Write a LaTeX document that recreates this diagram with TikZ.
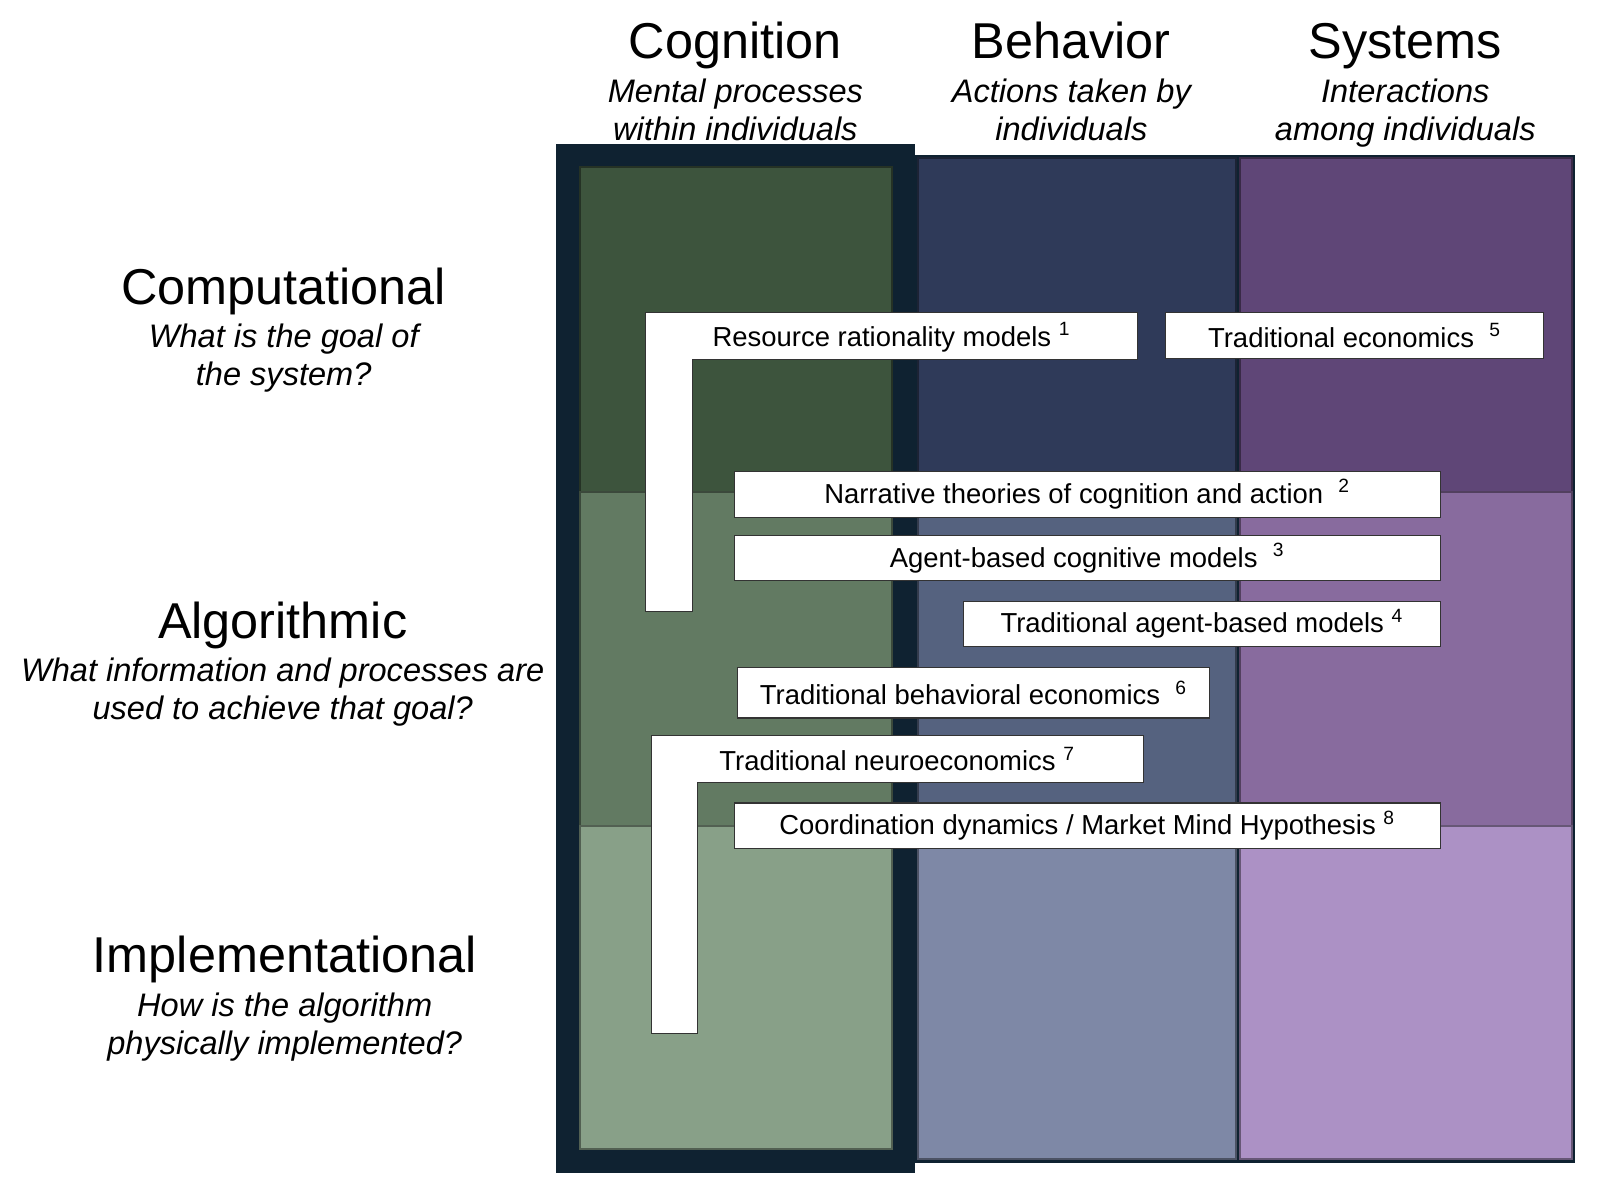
\documentclass[tikz,border=0pt]{standalone}
\usepackage{fontspec}
\setmainfont{Liberation Sans}
\usetikzlibrary{positioning,calc}

\definecolor{frame}{HTML}{0F2231}
\definecolor{cogA}{HTML}{3D543D}
\definecolor{cogB}{HTML}{627A62}
\definecolor{cogC}{HTML}{88A088}
\definecolor{behA}{HTML}{2F3A59}
\definecolor{behB}{HTML}{55627F}
\definecolor{behC}{HTML}{7E88A6}
\definecolor{sysA}{HTML}{5F4677}
\definecolor{sysB}{HTML}{886B9E}
\definecolor{sysC}{HTML}{AC91C5}

\begin{document}
\begin{tikzpicture}[x=0.5pt,y=-0.5pt,
  head/.style={anchor=base, inner sep=0pt, font=\fontsize{24.6}{29}\selectfont},
  sub/.style={anchor=base, align=center, inner sep=0pt,
    font=\fontsize{15.9}{18.7}\selectfont\itshape},
  cell/.style={line width=1pt},
  lbl/.style={draw=black!80, fill=white, line width=0.5pt, inner sep=0pt,
    font=\fontsize{13.4}{16}\selectfont},
  lshape/.style={draw=black!80, fill=white, line width=0.5pt}
]
\useasboundingbox (0,0) rectangle (1568,1160);

\fill[frame] (543,141) rectangle (893,1145);
\fill[frame] (893,151) rectangle (1538,1135);

\filldraw[cell, fill=cogA, draw=cogA!60!black] (566,163) rectangle (871,480);
\filldraw[cell, fill=cogB, draw=cogB!60!black] (566,480) rectangle (871,806);
\filldraw[cell, fill=cogC, draw=cogC!60!black] (566,806) rectangle (871,1122);
\filldraw[cell, fill=behA, draw=behA!60!black] (896,154) rectangle (1207,480);
\filldraw[cell, fill=behB, draw=behB!60!black] (896,480) rectangle (1207,806);
\filldraw[cell, fill=behC, draw=behC!60!black] (896,806) rectangle (1207,1132);
\filldraw[cell, fill=sysA, draw=sysA!60!black] (1211,154) rectangle (1535,480);
\filldraw[cell, fill=sysB, draw=sysB!60!black] (1211,480) rectangle (1535,806);
\filldraw[cell, fill=sysC, draw=sysC!60!black] (1211,806) rectangle (1535,1132);

\node[head] (cog) at (718,57)  {Cognition};
\node[head] (beh) at (1046,57) {Behavior};
\node[head] (sys) at (1372,57) {Systems};
\node[sub] (cogs) at (718,137)  {Mental processes\\within individuals};
\node[sub] (behs) at (1046,137) {Actions taken by\\individuals};
\node[sub] (syss) at (1372,137) {Interactions\\among individuals};

\node[head] (comp) at (277,297) {Computational};
\node[head] (algo) at (276,623) {Algorithmic};
\node[head] (impl) at (278,949) {Implementational};
\node[sub] (comps) at (277,376.5) {What is the goal of\\the system?};
\node[sub] (algos) at (276,702.5) {What information and processes are\\used to achieve that goal?};
\node[sub] (impls) at (278,1029.5) {How is the algorithm\\physically implemented?};

\draw[lshape] (630,305) -- (1111,305) -- (1111,351) -- (676,351) -- (676,597) -- (630,597) -- cycle;
\draw[lshape] (636,718) -- (1116,718) -- (1116,764) -- (681,764) -- (681,1009) -- (636,1009) -- cycle;

\node[lbl, draw=none, fill=none] (rr) at (870.5,329) {Resource rationality models \textsuperscript{1}};
\node[lbl, minimum width=184.5pt, minimum height=22.5pt] (te) at (1322.5,327.5) {Traditional economics ~\textsuperscript{5}};
\node[lbl, minimum width=344.5pt, minimum height=22.5pt] (nt) at (1061.5,482.5) {Narrative theories of cognition and action ~\textsuperscript{2}};
\node[lbl, minimum width=344.5pt, minimum height=22pt] (ab) at (1061.5,545) {Agent-based cognitive models ~\textsuperscript{3}};
\node[lbl, minimum width=232.5pt, minimum height=22pt] (ta) at (1173.5,609) {Traditional agent-based models \textsuperscript{4}};
\node[lbl, minimum width=230.5pt, minimum height=24.5pt] (tb) at (950.5,676.5) {Traditional behavioral economics ~\textsuperscript{6}};
\node[lbl, draw=none, fill=none] (tn) at (876,741) {Traditional neuroeconomics \textsuperscript{7}};
\node[lbl, minimum width=344.5pt, minimum height=22pt] (cd) at (1061.5,806) {Coordination dynamics / Market Mind Hypothesis \textsuperscript{8}};

\end{tikzpicture}
\end{document}
